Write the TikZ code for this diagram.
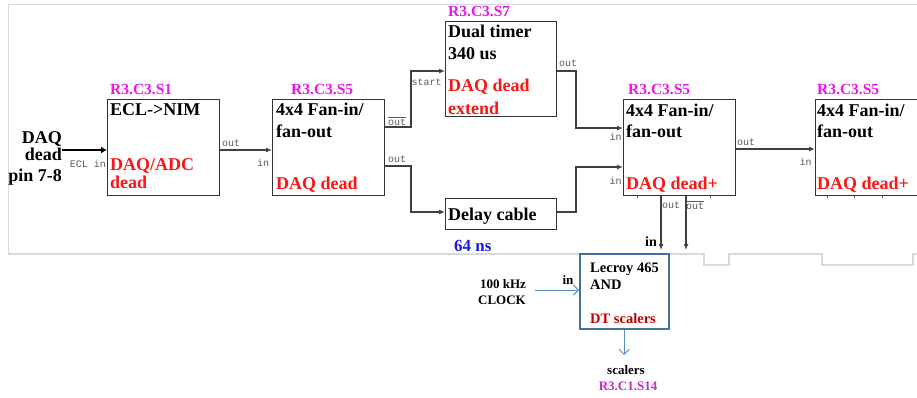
\documentclass[tikz,border=0pt]{standalone}
\usepackage{fontspec}
\setmainfont{Liberation Serif}[BoldFont={Liberation Serif Bold}]
\newfontfamily\monof{Liberation Mono}
\usetikzlibrary{arrows.meta}
\definecolor{framegray}{RGB}{217,217,217}
\definecolor{boxgray}{RGB}{50,50,50}
\definecolor{linegray}{RGB}{64,64,64}
\definecolor{portgray}{RGB}{90,90,90}
\definecolor{slotmag}{RGB}{235,20,235}
\definecolor{deadred}{RGB}{255,20,20}
\definecolor{nsblue}{RGB}{25,25,230}
\definecolor{dtred}{RGB}{192,0,0}
\definecolor{lcblue}{RGB}{65,113,156}
\definecolor{arrblue}{RGB}{91,143,199}
\definecolor{scmag}{RGB}{200,40,200}
\begin{document}
\begin{tikzpicture}[x=1pt,y=-1pt,
  modbox/.style={draw=boxgray, line width=1.3pt, inner sep=0pt, anchor=north west},
  btxt/.style={font=\rmfamily\bfseries\fontsize{18}{21.5}\selectfont, anchor=base west, inner sep=0pt},
  rtxt/.style={btxt, text=deadred},
  slot/.style={font=\rmfamily\bfseries\fontsize{15.5}{18}\selectfont, text=slotmag, anchor=base west, inner sep=0pt},
  port/.style={font=\monof\fontsize{10}{12}\selectfont, text=portgray, inner sep=0pt},
  stxt/.style={font=\rmfamily\bfseries\fontsize{13}{15}\selectfont, anchor=base, inner sep=0pt},
  conn/.style={draw=linegray, line width=1.3pt, -{Latex[length=6pt,width=5pt]}},
  bconn/.style={draw=arrblue, line width=1pt, -{Straight Barb[length=5pt,width=10pt]}},
  tick/.style={draw=portgray, line width=0.6pt}]
\clip (0,0) rectangle (917,397);
\fill[white] (0,0) rectangle (917,397);
% frame
\draw[framegray, line width=1.4pt] (917,4.5) -- (8.5,4.5) -- (8.5,254) -- (580,254);
\draw[framegray, line width=1.4pt] (668,254) -- (704,254) -- (704,265) -- (729,265) -- (729,254) -- (822,254) -- (822,265) -- (913,265) -- (913,254) -- (917,254);

% boxes
\node[modbox, minimum width=112pt, minimum height=96pt] (b1) at (107,99) {};
\node[modbox, minimum width=112pt, minimum height=96pt] (b2) at (272,99) {};
\node[modbox, minimum width=111pt, minimum height=95pt] (tm) at (445,21) {};
\node[modbox, minimum width=111pt, minimum height=31pt] (dl) at (445,198) {};
\node[modbox, minimum width=112pt, minimum height=96pt] (b3) at (623,99) {};
\node[modbox, minimum width=140pt, minimum height=96pt] (b4) at (815,99) {};
\node[draw=lcblue, line width=2pt, inner sep=0pt, anchor=north west, minimum width=89pt, minimum height=75pt] (lc) at (579,253) {};

% slot labels
\node[slot] (s1) at (110,94) {R3.C3.S1};
\node[slot] (s2) at (291,94) {R3.C3.S5};
\node[slot] (s7) at (448,16) {R3.C3.S7};
\node[slot] (s3) at (628,94) {R3.C3.S5};
\node[slot] (s4) at (817,94) {R3.C3.S5};

% input label
\node[btxt, anchor=north east, align=right, font={\rmfamily\bfseries\fontsize{18}{17.5}\selectfont\lineskiplimit=-20pt}] (daq1) at (62,131) {DAQ\\dead};
\node[btxt, anchor=base east] (daq3) at (62,181) {pin 7-8};

% box texts
\node[btxt] (t1a) at (110,115) {ECL->NIM};
\node[rtxt] (t1b) at (110,170) {DAQ/ADC};
\node[rtxt] (t1c) at (110,188) {dead};

\node[btxt] (t2a) at (276,115) {4x4 Fan-in/};
\node[btxt] (t2b) at (276,137) {fan-out};
\node[rtxt] (t2c) at (276,189) {DAQ dead};

\node[btxt] (tma) at (448,37) {Dual timer};
\node[btxt] (tmb) at (448,59) {340 us};
\node[rtxt] (tmc) at (448,91) {DAQ dead};
\node[rtxt] (tmd) at (448,114) {extend};

\node[btxt] (dla) at (448,220) {Delay cable};
\node[btxt, font=\rmfamily\bfseries\fontsize{17}{20}\selectfont, text=nsblue] (ns) at (454,251) {64 ns};

\node[btxt] (t3a) at (626,116) {4x4 Fan-in/};
\node[btxt] (t3b) at (626,137) {fan-out};
\node[rtxt] (t3c) at (626,189) {DAQ dead+};

\node[btxt] (t4a) at (817,116) {4x4 Fan-in/};
\node[btxt] (t4b) at (817,137) {fan-out};
\node[rtxt] (t4c) at (817,189) {DAQ dead+};

% Lecroy texts
\node[btxt, font=\rmfamily\bfseries\fontsize{14.5}{17}\selectfont] (lca) at (590,272) {Lecroy 465};
\node[btxt, font=\rmfamily\bfseries\fontsize{14.5}{17}\selectfont] (lcb) at (590,289) {AND};
\node[btxt, font=\rmfamily\bfseries\fontsize{14.5}{17}\selectfont, text=dtred] (lcc) at (590,323) {DT scalers};

\node[stxt] (clk1) at (503,288) {100 kHz};
\node[stxt] (clk2) at (502,304) {CLOCK};
\node[stxt] (lcin) at (568,284) {in};
\node[stxt, font=\rmfamily\bfseries\fontsize{14}{16}\selectfont] (b3in) at (651,246) {in};
\node[stxt] (sc1) at (626,374) {scalers};
\node[stxt, text=scmag] (sc2) at (628,390) {R3.C1.S14};

% port labels
\node[port] (p1) at (88,164) {ECL in};
\node[port] (p2) at (231,143) {out};
\node[port] (p3) at (263,163) {in};
\node[port] (p4) at (397,121) {$\overline{\hbox{out}}$};
\node[port] (p5) at (426.5,82) {start};
\node[port] (p6) at (397,159) {out};
\node[port] (p7) at (568,63) {out};
\node[port] (p8) at (615.5,137) {in};
\node[port] (p9) at (615.5,181) {in};
\node[port] (p10) at (746,142) {out};
\node[port] (p11) at (805.5,162) {in};
\node[port] (p12) at (671,205) {out};
\node[port] (p13) at (695,205) {$\overline{\hbox{out}}$};

% connectors
\coordinate (daqend) at (62,150);
\draw[draw=black, line width=2.8pt, -{Latex[length=6pt,width=7pt]}] (daqend) -- (b1.west |- daqend);
\draw[conn] (b1.east |- 0,150) -- (b2.west |- 0,150);
\draw[conn] (b2.east |- 0,127) -- (411,127) -- (411,71) -- (tm.west |- 0,71);
\draw[conn] (b2.east |- 0,166) -- (411,166) -- (411,212) -- (dl.west |- 0,212);
\draw[conn] (tm.east |- 0,71) -- (576,71) -- (576,128) -- (b3.west |- 0,128);
\draw[conn] (dl.east |- 0,212) -- (576,212) -- (576,167) -- (b3.west |- 0,167);
\draw[conn] (b3.east |- 0,149) -- (b4.west |- 0,149);
\coordinate (o1end) at (661,250);
\coordinate (o2end) at (686,250);
\draw[conn] (b3.south -| o1end) -- (o1end);
\draw[conn] (b3.south -| o2end) -- (o2end);
\coordinate (clkstart) at (535,290);
\draw[bconn] (clkstart) -- (lc.west |- clkstart);
\coordinate (scend) at (624,355);
\draw[bconn] (lc.south -| scend) -- (scend);

% small ticks on module bottoms
\draw[tick] (637,195) -- (637,198);
\draw[tick] (710,195) -- (710,198);
\draw[tick] (827,195) -- (827,198);
\draw[tick] (854,195) -- (854,198);
\draw[tick] (882,195) -- (882,198);
\end{tikzpicture}
\end{document}
